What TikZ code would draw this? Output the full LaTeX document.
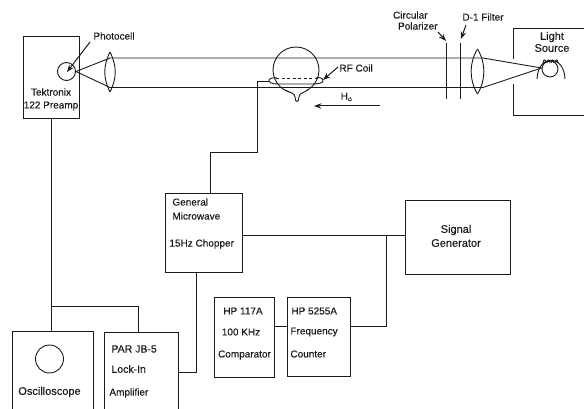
\documentclass[tikz,border=0pt]{standalone}
\usepackage{fontspec}
\setmainfont{Liberation Sans}[FakeBold=0.25]
\usetikzlibrary{arrows.meta, positioning, calc}
\definecolor{cink}{HTML}{1A1A1A}
\tikzset{
  every picture/.style={font=\fontsize{10pt}{12pt}\selectfont, line width=0.9pt},
  unit/.style={draw=cink, anchor=north west, inner sep=0pt, text=cink},
  wire/.style={draw=cink, line width=0.9pt},
  beam/.style={draw=cink, line width=0.9pt},
  pointer/.style={-{Stealth[length=2.6mm,width=1.9mm]}, draw=cink, line width=1pt},
  label/.style={text=cink, inner sep=0pt, align=center},
}
\begin{document}
\begin{tikzpicture}[x=1pt,y=-1pt]
  \useasboundingbox (0,0) rectangle (584,409);
  % boxes
  \node[unit, minimum width=56.5pt, minimum height=82pt] (preamp) at (22.5,36.5) {};
  \node[unit, minimum width=81pt, minimum height=85pt] (scope) at (12,331) {};
  \node[unit, minimum width=74pt, minimum height=85pt] (lockin) at (104,332) {};
  \node[unit, minimum width=77pt, minimum height=79pt] (chopper) at (165,193) {};
  \node[unit, minimum width=60pt, minimum height=80pt] (comparator) at (214,297) {};
  \node[unit, minimum width=63pt, minimum height=79pt] (counter) at (287,297) {};
  \node[unit, minimum width=105pt, minimum height=74pt] (siggen) at (405,200) {};
  % box texts
  \node[label] (preampa) at (51,92) {Tektronix};
  \node[label] (preampb) at (51,106) {122 Preamp};
  \node[label, font=\fontsize{11pt}{13pt}\selectfont] (scopetxt) at (49.5,392) {Oscilloscope};
  \node[label, anchor=west, font=\fontsize{10.5pt}{12pt}\selectfont] (lockina) at (111,349) {PAR JB-5};
  \node[label, anchor=west, font=\fontsize{10.5pt}{12pt}\selectfont] (lockinb) at (111,369) {Lock-In};
  \node[label, anchor=west] (lockinc) at (109,393) {Amplifier};
  \node[label, anchor=west] (chopa) at (172,202) {General};
  \node[label, anchor=west] (chopb) at (172,216) {Microwave};
  \node[label, anchor=west] (chopc) at (169,244) {15Hz Chopper};
  \node[label] (compa) at (243,311) {HP 117A};
  \node[label] (compb) at (241,332) {100 KHz};
  \node[label] (compc) at (244.5,355) {Comparator};
  \node[label, anchor=west] (counta) at (291,311) {HP 5255A};
  \node[label, anchor=west] (countb) at (290,332) {Frequency};
  \node[label, anchor=west] (countc) at (290,354) {Counter};
  \node[label, font=\fontsize{11pt}{13pt}\selectfont] (siga) at (456,230) {Signal};
  \node[label, font=\fontsize{11pt}{13pt}\selectfont] (sigb) at (456,243) {Generator};
  \node[label, font=\fontsize{11pt}{13pt}\selectfont] (srca) at (552,37) {Light};
  \node[label, font=\fontsize{11pt}{13pt}\selectfont] (srcb) at (552,48) {Source};
  % wires
  \coordinate (split) at (51,306);
  \coordinate (lockup) at (138,306);
  \coordinate (chopdown) at (196,372);
  \coordinate (tee) at (386.5,235.5);
  \coordinate (teelow) at (386.5,326);
  \coordinate (coilwire) at (257,81);
  \coordinate (jog) at (257,152);
  \coordinate (chopup) at (210,152);
  \draw[wire] (preamp.south -| split) -- (scope.north -| split);
  \draw[wire] (split) -- (lockup) -- (lockin.north -| lockup);
  \draw[wire] (lockin.east |- chopdown) -- (chopdown) -- (chopper.south -| chopdown);
  \draw[wire] (chopper.east |- tee) -- (siggen.west |- tee);
  \draw[wire] (tee) -- (teelow) -- (counter.east |- teelow);
  \draw[wire] (comparator.east |- teelow) -- (counter.west |- teelow);
  \draw[wire] (chopper.north -| chopup) -- (chopup) -- (jog) -- (coilwire) -- (270,81);
  % photocell end
  \node[draw=cink, circle, minimum size=18pt, inner sep=0pt] (cell) at (66.5,71.5) {};
  \node[draw=cink, circle, minimum size=28pt, inner sep=0pt] (screen) at (49.5,359) {};
  \node[label, anchor=west] (celltxt) at (93,36) {Photocell};
  \coordinate (lensltop) at (110,52);
  \coordinate (lenslbot) at (110,92);
  \draw[beam] (cell.east) -- (110,58) -- (446.5,58);
  \draw[beam] (cell.east) -- (110,87.5) -- (446.5,87.5);
  \draw[beam] (lensltop) .. controls (103,66) and (103,78) .. (lenslbot);
  \draw[beam] (lensltop) .. controls (117,66) and (117,78) .. (lenslbot);
  \draw[pointer] (90,42) -- (67,72);
  % light source end
  \coordinate (lensrtop) at (477.5,49);
  \coordinate (lensrbot) at (477.5,94);
  \coordinate (filament) at (541.5,68);
  \draw[beam] (446.5,58) -- (483,58) -- (filament);
  \draw[beam] (446.5,87.5) -- (483,87.5) -- (filament);
  \draw[beam] (lensrtop) .. controls (469,63) and (469,80) .. (lensrbot);
  \draw[beam] (lensrtop) .. controls (486,63) and (486,80) .. (lensrbot);
  \draw[beam] (446.5,43) -- (446.5,99);
  \draw[beam] (460,43) -- (460,99);
  \draw[wire] (584,28) -- (513,28) -- (513,59);
  \draw[wire] (513,84) -- (513,115) -- (584,115);
  \node[draw=cink, circle, minimum size=16pt, inner sep=0pt] (lamp) at (550,69) {};
  \draw[beam] (537,79) .. controls (538,54) and (564,54) .. (565,79);
  \foreach \x in {543,547,551,555} {
    \draw[beam] (\x,63) .. controls (\x,59) and (\x+3,59) .. (\x+3,63);
  }
  % absorption bulb
  \node[draw=cink, circle, minimum size=46pt, inner sep=0pt] (bulb) at (296,70) {};
  \draw[beam, fill=white] (285,90) .. controls (291,93) and (294.5,93) .. (295,97)
    .. controls (295,103) and (299,103) .. (299,97) .. controls (299.5,93) and (303,93) .. (308,90);
  \draw[beam, dashed, dash pattern=on 3pt off 2.5pt] (276,78) -- (317,78);
  \draw[beam] (277,78) .. controls (272,77) and (268,79) .. (269,81) .. controls (270,84) and (276,84) .. (280,84)
    -- (312,84) .. controls (318,84) and (323,83) .. (323,81) .. controls (323,78) and (320,77) .. (316,78);
  \node[label, anchor=west] (coiltxt) at (339,68) {RF Coil};
  \node[label] (fieldtxt) at (346.5,97) {H$_{\mathrm{o}}$};
  \coordinate (fieldr) at (380,106);
  \coordinate (fieldl) at (314,106);
  \draw[pointer] (fieldr) -- (fieldl);
  \draw[pointer] (338,67) -- (323,80);
  % polarizer and filter
  \draw[pointer] (438,32) -- (446,41);
  \draw[pointer] (466,25) -- (461,39);
  \node[label, anchor=east] (pola) at (428,15) {Circular};
  \node[label, anchor=east] (polb) at (438,26) {Polarizer};
  \node[label, anchor=west] (filtxt) at (462,17) {D-1 Filter};
\end{tikzpicture}
\end{document}
